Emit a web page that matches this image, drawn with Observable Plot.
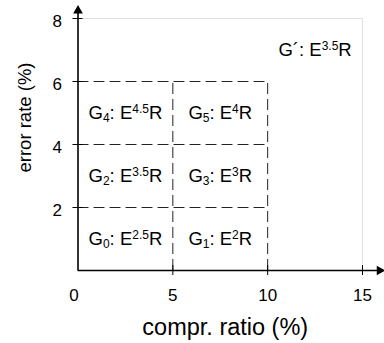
<!DOCTYPE html>
<html><head><meta charset="utf-8">
<script src="https://cdn.jsdelivr.net/npm/d3@7"></script>
<script src="https://cdn.jsdelivr.net/npm/@observablehq/plot@0.6"></script>
<style>
body{margin:0;background:#fff}
svg{font-family:"Liberation Sans",Arial,sans-serif}
</style>
</head><body><div id="chart"></div>
<script>
// ---- data ----
const xTicks = [0, 5, 10, 15];
const yTicks = [2, 4, 6, 8];
const gridRows = [2, 4, 6];      // dashed horizontal boundaries (error rate %)
const gridCols = [5, 10];        // dashed vertical boundaries (compr. ratio %)
const gridXEnd = 10, gridYEnd = 6;
const labelText = ["G_{0}: E^{2.5}R", "G_{1}: E^{2}R", "G_{2}: E^{3.5}R", "G_{3}: E^{3}R",
                   "G_{4}: E^{4.5}R", "G_{5}: E^{4}R", "G´: E^{3.5}R"];
const labelX = [2.5, 7.5, 2.5, 7.5, 2.5, 7.5, 12.5];
const labelY = [1, 1, 3, 3, 5, 5, 7];
const xMax = 15, yMax = 8;
const xAxisEnd = 15.9, yAxisEnd = 8.25;

const labels = labelText.map((t, i) => ({t, x: labelX[i], y: labelY[i]}));

const chart = Plot.plot({
  width: 384, height: 343,
  marginLeft: 77.5, marginRight: 22, marginTop: 18, marginBottom: 73,
  x: {domain: [0, xMax], axis: null},
  y: {domain: [0, yMax], axis: null},
  marks: [
    Plot.ruleY([yMax], {x1: 0, x2: xMax, stroke: "#e2e2e2"}),
    Plot.ruleX([xMax], {y1: 0, y2: yMax, stroke: "#e2e2e2"}),
    Plot.ruleY(gridRows, {x1: 0, x2: gridXEnd, stroke: "#222", strokeDasharray: "11,5"}),
    Plot.ruleX(gridCols, {y1: 0, y2: gridYEnd, stroke: "#222", strokeDasharray: "11,5"}),
    Plot.ruleX(xTicks.slice(1), {y1: 0, y2: 0, insetTop: -5, insetBottom: -5, stroke: "#000"}),
    Plot.ruleY(yTicks, {x1: 0, x2: 0, insetLeft: -5, insetRight: -5, stroke: "#000"}),
    Plot.ruleY([0], {x1: 0, x2: xAxisEnd, stroke: "#000", strokeWidth: 1.6}),
    Plot.ruleX([0], {y1: 0, y2: yAxisEnd, stroke: "#000", strokeWidth: 1.6}),
    Plot.dot([xAxisEnd], {x: d => d, y: 0, symbol: "triangle", r: 3.6, fill: "#000", stroke: null, rotate: 90}),
    Plot.dot([yAxisEnd], {x: 0, y: d => d, symbol: "triangle", r: 3.6, fill: "#000", stroke: null}),
    Plot.text(yTicks, {x: 0, y: d => d, text: d => String(d), textAnchor: "end", dx: -16, dy: 3.5, fontSize: 17, fill: "#000"}),
    Plot.text(xTicks.slice(1), {x: d => d, y: 0, text: d => String(d), lineAnchor: "top", dy: 18, fontSize: 17, fill: "#000"}),
    Plot.text(xTicks.slice(0, 1), {x: d => d, y: 0, text: d => String(d), lineAnchor: "top", dy: 18, dx: -4, fontSize: 17, fill: "#000"}),
    Plot.text(["compr. ratio (%)"], {frameAnchor: "bottom", lineAnchor: "bottom", textAnchor: "middle", dy: 64, dx: 5, fontSize: 23.5, fill: "#000"}),
    Plot.text(["error rate (%)"], {frameAnchor: "left", textAnchor: "middle", lineAnchor: "middle", rotate: -90, dx: -53, dy: -27, fontSize: 18.5, fill: "#000"}),
    Plot.text(labels, {x: "x", y: "y", text: "t", fontSize: 18.5, fill: "#000"})
  ]
});
document.getElementById("chart").appendChild(chart);

// render _{sub} and ^{sup} parts as real tspans
const NS = "http://www.w3.org/2000/svg";
chart.querySelectorAll("text").forEach(el => {
  const s = el.textContent;
  if (!/[_^]\{/.test(s)) return;
  el.textContent = "";
  const re = /([_^])\{([^}]*)\}/g;
  let last = 0, cur = 0, m;
  const add = (txt, shift, size) => {
    if (!txt) return;
    const ts = document.createElementNS(NS, "tspan");
    ts.textContent = txt;
    if (shift !== cur) ts.setAttribute("dy", shift - cur);
    if (size) ts.setAttribute("font-size", size);
    cur = shift;
    el.appendChild(ts);
  };
  while ((m = re.exec(s))) {
    add(s.slice(last, m.index), 0);
    add(m[2], m[1] === "_" ? 3 : -6, 12);
    last = re.lastIndex;
  }
  add(s.slice(last), 0);
});
</script>
</body></html>
